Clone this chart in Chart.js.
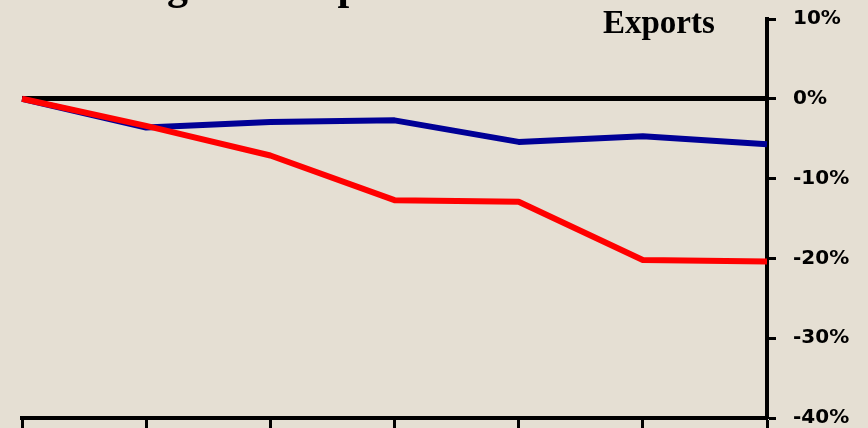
<!DOCTYPE html>
<html>
<head>
<meta charset="utf-8">
<script src="https://cdn.jsdelivr.net/npm/chart.js@4/dist/chart.umd.min.js"></script>
<style>
  html, body { margin: 0; padding: 0; background: #e5dfd3; }
  #wrap { width: 868px; height: 428px; position: relative; }
</style>
</head>
<body>
<div id="wrap"><canvas id="c" width="868" height="428"></canvas></div>
<script>
// Data
const categories = ["P0", "P1", "P2", "P3", "P4", "P5", "P6"];
const exportsSeries = [0, -3.4, -7.1, -12.7, -12.9, -20.2, -20.4];   // red
const outputSeries  = [0, -3.6, -2.9, -2.7, -5.4, -4.7, -5.7];       // blue
const yTickValues = [10, 0, -10, -20, -30, -40];
const titleText = ["Slowing", "of Output"];
const axisLabel = "Exports";

const textPlugin = {
  id: 'texts',
  afterDraw(chart) {
    const ctx = chart.ctx;
    ctx.save();
    ctx.fillStyle = '#000';
    ctx.textBaseline = 'alphabetic';
    ctx.textAlign = 'left';
    ctx.font = 'bold 42px "Liberation Serif"';
    const w0 = ctx.measureText(titleText[0]).width;
    ctx.fillText(titleText[0], 188 - w0, -1);
    ctx.fillText(titleText[1], 222, -1);
    ctx.font = 'bold 33px "Liberation Serif"';
    ctx.fillText(axisLabel, 603, 33);
    ctx.restore();
  }
};

new Chart(document.getElementById('c'), {
  type: 'line',
  data: {
    labels: categories,
    datasets: [
      { label: 'Exports', data: exportsSeries, borderColor: '#ff0000', borderWidth: 6,
        pointRadius: 0, tension: 0, fill: false, borderJoinStyle: 'round' },
      { label: 'Output', data: outputSeries, borderColor: '#000096', borderWidth: 6,
        pointRadius: 0, tension: 0, fill: false, borderJoinStyle: 'round' }
    ]
  },
  options: {
    responsive: false,
    animation: false,
    layout: { padding: { left: 22, top: 19, right: 0, bottom: 0 } },
    plugins: { legend: { display: false }, tooltip: { enabled: false } },
    scales: {
      x: {
        type: 'category',
        offset: false,
        position: 'bottom',
        afterFit(scale) { scale.height = 10; scale.paddingLeft = 0; scale.paddingRight = 0; },
        border: { display: true, color: '#000', width: 4 },
        grid: { drawOnChartArea: false, drawTicks: true, tickLength: 10, tickColor: '#000', tickWidth: 3 },
        ticks: { display: false }
      },
      y: {
        position: 'right',
        min: -40, max: 10,
        afterFit(scale) { scale.width = 101; scale.paddingTop = 0; scale.paddingBottom = 0; },
        afterBuildTicks(scale) { scale.ticks = yTickValues.map(v => ({ value: v })); },
        border: { display: true, color: '#000', width: 4 },
        grid: {
          drawOnChartArea: true,
          color: (c) => (c.tick && c.tick.value === 0) ? '#000' : 'rgba(0,0,0,0)',
          lineWidth: (c) => (c.tick && c.tick.value === 0) ? 5 : 1,
          tickColor: '#000', tickWidth: 3, tickLength: 9
        },
        ticks: {
          padding: 17,
          color: '#000',
          font: { family: '"DejaVu Sans"', weight: 'bold', size: 20 },
          callback: (v) => v + '%'
        }
      }
    }
  },
  plugins: [textPlugin]
});
</script>
</body>
</html>
